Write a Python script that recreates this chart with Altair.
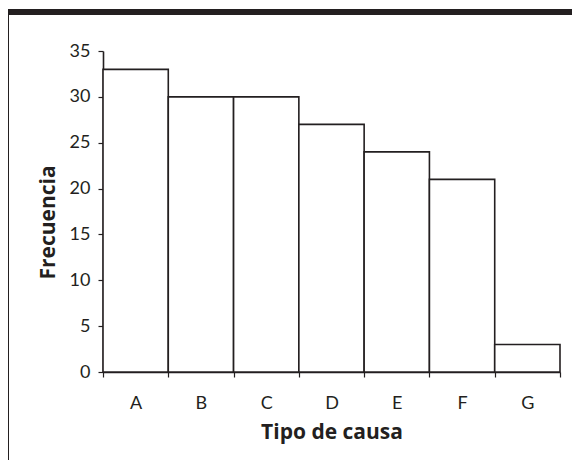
import altair as alt
import pandas as pd

categories = ["A", "B", "C", "D", "E", "F", "G"]
values = [33, 30, 30, 27, 24, 21, 3]

df = pd.DataFrame({"cause": categories, "freq": values})

LABEL_FONT = "Lato"
TITLE_FONT = "Open Sans"
W, H = 457, 321
PAD = {"left": 95, "top": 43, "right": 12, "bottom": 88}

bars = alt.Chart(df).mark_bar(
    fill="white", stroke="#231f20", strokeWidth=1.6
).encode(
    x=alt.X("cause:N", sort=categories,
            scale=alt.Scale(paddingInner=0, paddingOuter=0),
            axis=alt.Axis(title="Tipo de causa", labelAngle=0, tickBand="extent",
                          labelPadding=17, titlePadding=9)),
    y=alt.Y("freq:Q", scale=alt.Scale(domain=[0, 35], nice=False),
            axis=alt.Axis(title="Frecuencia", values=[0, 5, 10, 15, 20, 25, 30, 35],
                          grid=False, labelPadding=8, titlePadding=11, titleY=171)),
)

frame_df = pd.DataFrame({"k": [0]})
top_bar = alt.Chart(frame_df).mark_rule(color="#231f20", strokeWidth=6).encode(
    x=alt.value(-95), x2=alt.value(W + PAD["right"]), y=alt.value(-39)
)
left_line = alt.Chart(frame_df).mark_rule(color="#231f20", strokeWidth=1).encode(
    x=alt.value(-94.5), y=alt.value(-39), y2=alt.value(H + PAD["bottom"])
)

chart = alt.layer(bars, top_bar, left_line).properties(
    width=W, height=H,
    autosize=alt.AutoSizeParams(type="none"),
    padding=PAD,
).configure_view(stroke=None).configure_axis(
    domainColor="#231f20", domainWidth=1.6, tickColor="#231f20", tickWidth=1.2,
    tickSize=5, labelFont=LABEL_FONT, labelFontSize=18, labelColor="#231f20",
    titleFont=TITLE_FONT, titleFontSize=21, titleFontWeight="bold", titleColor="#231f20",
)

chart.save("out.html", embed_options={"renderer": "svg", "actions": False})
